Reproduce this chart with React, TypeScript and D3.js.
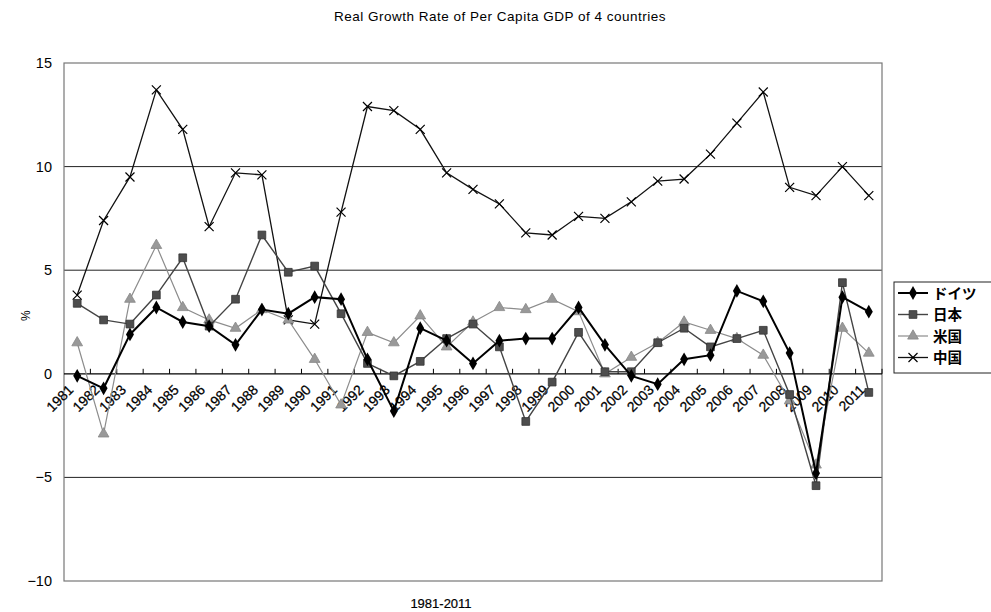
import React from "react";
import * as d3 from "d3";

const years = d3.range(1981, 2012).map(String);

const germany = [-0.1, -0.7, 1.9, 3.2, 2.5, 2.3, 1.4, 3.1, 2.9, 3.7, 3.6, 0.7, -1.8, 2.2, 1.6, 0.5, 1.6, 1.7, 1.7, 3.2, 1.4, -0.1, -0.5, 0.7, 0.9, 4.0, 3.5, 1.0, -4.8, 3.7, 3.0];
const japan = [3.4, 2.6, 2.4, 3.8, 5.6, 2.3, 3.6, 6.7, 4.9, 5.2, 2.9, 0.5, -0.1, 0.6, 1.7, 2.4, 1.3, -2.3, -0.4, 2.0, 0.1, 0.1, 1.5, 2.2, 1.3, 1.7, 2.1, -1.0, -5.4, 4.4, -0.9];
const usa = [1.5, -2.9, 3.6, 6.2, 3.2, 2.6, 2.2, 3.1, 2.6, 0.7, -1.5, 2.0, 1.5, 2.8, 1.3, 2.5, 3.2, 3.1, 3.6, 3.0, 0.0, 0.8, 1.5, 2.5, 2.1, 1.7, 0.9, -1.3, -4.4, 2.2, 1.0];
const china = [3.8, 7.4, 9.5, 13.7, 11.8, 7.1, 9.7, 9.6, 2.6, 2.4, 7.8, 12.9, 12.7, 11.8, 9.7, 8.9, 8.2, 6.8, 6.7, 7.6, 7.5, 8.3, 9.3, 9.4, 10.6, 12.1, 13.6, 9.0, 8.6, 10.0, 8.6];

const yTicks = [-10, -5, 0, 5, 10, 15];

const series = [
  { name: "ドイツ", values: germany, color: "#000", width: 2, marker: "diamond", fill: "#000" },
  { name: "日本", values: japan, color: "#444", width: 1.4, marker: "square", fill: "#4d4d4d" },
  { name: "米国", values: usa, color: "#8c8c8c", width: 1.2, marker: "triangle", fill: "#999" },
  { name: "中国", values: china, color: "#111", width: 1.3, marker: "cross", fill: "none" },
];

const left = 64;
const right = 882;
const top = 63;
const bottom = 581;

const Marker = ({ kind, x, y, fill }: { kind: string; x: number; y: number; fill: string }) => {
  if (kind === "cross") {
    const r = 4.5;
    return (
      <path d={`M${x - r},${y - r}L${x + r},${y + r}M${x - r},${y + r}L${x + r},${y - r}`} stroke="#000" strokeWidth={1.2} />
    );
  }
  const sym = kind === "diamond" ? d3.symbolDiamond : kind === "square" ? d3.symbolSquare : d3.symbolTriangle;
  const size = kind === "diamond" ? 55 : kind === "square" ? 60 : 50;
  return (
    <path
      d={d3.symbol().type(sym).size(size)() || ""}
      transform={`translate(${x},${y})`}
      fill={fill}
      stroke={kind === "square" ? "#333" : kind === "triangle" ? "#888" : "none"}
      strokeWidth={0.8}
    />
  );
};

export default function App() {
  const x = d3.scaleBand().domain(years).range([left, right]).padding(0);
  const y = d3.scaleLinear().domain([-10, 15]).range([bottom, top]);
  const cx = (yr: string) => (x(yr) as number) + x.bandwidth() / 2;
  const zeroY = y(0);

  const line = d3
    .line<number>()
    .x((_, i) => cx(years[i]))
    .y((d) => y(d));

  const font = "'Liberation Sans', Arial, sans-serif";

  return (
    <svg width={991} height={612} style={{ position: "absolute", left: 0, top: 0, background: "#fff" }}>
      <text x={500} y={21} textAnchor="middle" fontFamily={font} fontSize={13.5} letterSpacing={0.5}>
        Real Growth Rate of Per Capita GDP of 4 countries
      </text>

      {/* grid */}
      {yTicks
        .filter((t) => t !== 15 && t !== -10 && t !== 0)
        .map((t) => (
          <line key={t} x1={left} x2={right} y1={y(t)} y2={y(t)} stroke="#222" strokeWidth={1} />
        ))}
      <rect x={left} y={top} width={right - left} height={bottom - top} fill="none" stroke="#777" strokeWidth={1.2} />

      {/* y labels */}
      {yTicks.map((t) => (
        <text key={t} x={52} y={y(t) + 5} textAnchor="end" fontFamily={font} fontSize={14.5}>
          {t < 0 ? `\u2212${Math.abs(t)}` : t}
        </text>
      ))}
      <text transform={`translate(30,${y(2.8)}) rotate(-90)`} textAnchor="middle" fontFamily={font} fontSize={12}>
        %
      </text>

      {/* zero axis */}
      <line x1={left} x2={right} y1={zeroY} y2={zeroY} stroke="#000" strokeWidth={1.2} />
      {years.map((yr) => (
        <line key={yr} x1={(x(yr) as number) + x.bandwidth()} x2={(x(yr) as number) + x.bandwidth()} y1={zeroY} y2={zeroY - 5} stroke="#000" />
      ))}
      {years.map((yr) => (
        <text
          key={yr}
          transform={`translate(${cx(yr) - 3},${zeroY + 17}) rotate(-45)`}
          textAnchor="end"
          fontFamily={font}
          fontSize={14}
          stroke="#000"
          strokeWidth={0.25}
        >
          {yr}
        </text>
      ))}

      <text x={441} y={608} textAnchor="middle" fontFamily={font} fontSize={13} stroke="#000" strokeWidth={0.2}>
        1981-2011
      </text>

      {/* series */}
      {series
        .slice()
        .reverse()
        .map((s) => (
          <g key={s.name}>
            <path d={line(s.values) || ""} fill="none" stroke={s.color} strokeWidth={s.width} />
            {s.values.map((v, i) => (
              <Marker key={i} kind={s.marker} x={cx(years[i])} y={y(v)} fill={s.fill} />
            ))}
          </g>
        ))}

      {/* legend */}
      <rect x={894} y={282} width={110} height={91} fill="#fff" stroke="#222" strokeWidth={1} />
      {series.map((s, i) => {
        const ly = 293 + i * 21.5;
        return (
          <g key={s.name}>
            <line x1={898} x2={928} y1={ly} y2={ly} stroke={s.color} strokeWidth={s.width} />
            <Marker kind={s.marker} x={913} y={ly} fill={s.fill} />
            <text x={933} y={ly + 5.5} fontFamily="'Noto Sans CJK JP', sans-serif" fontSize={14.5} fontWeight={700}>
              {s.name}
            </text>
          </g>
        );
      })}
    </svg>
  );
}
